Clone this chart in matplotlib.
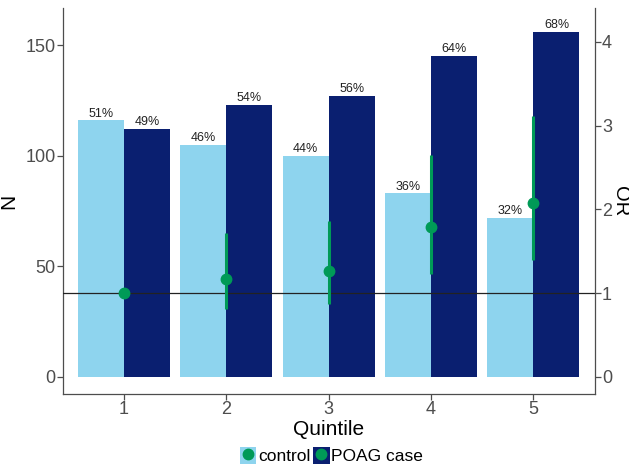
import numpy as np
import matplotlib.pyplot as plt
from matplotlib.patches import Patch
from matplotlib.lines import Line2D
from matplotlib.legend_handler import HandlerTuple

plt.rcParams['font.family'] = ['Liberation Sans', 'DejaVu Sans']

quintiles = [1, 2, 3, 4, 5]
control_n = [116, 105, 100, 83, 72]
case_n = [112, 123, 127, 145, 156]
control_pct = ['51%', '46%', '44%', '36%', '32%']
case_pct = ['49%', '54%', '56%', '64%', '68%']
odds_ratio = [1.0, 1.17, 1.27, 1.79, 2.08]
or_low = [1.0, 0.81, 0.87, 1.23, 1.40]
or_high = [1.0, 1.72, 1.86, 2.65, 3.11]

light_blue = '#8ED4EE'
navy = '#0A1F70'
green = '#009A57'
grey = '#4D4D4D'

fig = plt.figure(figsize=(6.29, 4.65), dpi=100)
ax = fig.add_axes([0.0997, 0.1527, 0.846, 0.830])
x = np.array(quintiles, dtype=float)
w = 0.45
ax.bar(x - w / 2, control_n, width=w, color=light_blue, edgecolor='none')
ax.bar(x + w / 2, case_n, width=w, color=navy, edgecolor='none')
for xi, n, p in zip(x, control_n, control_pct):
    ax.text(xi - w / 2, n + 0.3, p, ha='center', va='bottom', fontsize=9, color='#222222')
for xi, n, p in zip(x, case_n, case_pct):
    ax.text(xi + w / 2, n + 0.3, p, ha='center', va='bottom', fontsize=9, color='#222222')

ax.set_xlim(0.4, 5.6)
ymin, ymax = -7.7, 166.7
ax.set_ylim(ymin, ymax)
ax.set_yticks([0, 50, 100, 150])
ax.set_xticks(quintiles)
ax.set_xlabel('Quintile', fontsize=15)
ax.xaxis.set_label_coords(0.5, -0.068)
ax.set_ylabel('N', fontsize=15)
ax.yaxis.set_label_coords(-0.084, 0.5)

# secondary axis for OR, zero aligned with N = 0
scale = 37.85
ax2 = ax.twinx()
ax2.set_ylim(ymin / scale, ymax / scale)
ax2.set_yticks([0, 1, 2, 3, 4])
ax2.axhline(1, color='#222222', lw=0.9, zorder=2)
ax2.vlines(x, or_low, or_high, color=green, lw=2.2, zorder=3)
ax2.plot(x, odds_ratio, 'o', color=green, markersize=7.5, zorder=4)
# right axis title placed by hand so it sits clear of the tick labels
ax2.text(1.048, 0.5, 'OR', transform=ax2.transAxes, rotation=-90,
         ha='center', va='center', fontsize=14.5, color='black')

for a in (ax, ax2):
    a.spines['top'].set_visible(False)
    for s in ('left', 'right', 'bottom'):
        a.spines[s].set_color(grey)
        a.spines[s].set_linewidth(0.9)
    a.tick_params(colors=grey, labelsize=13, length=4, width=0.9, pad=1.2)
ax2.spines['left'].set_visible(False)
ax2.spines['bottom'].set_visible(False)
ax.spines['right'].set_visible(False)

handles = [
    (Patch(facecolor=light_blue, edgecolor='none'),
     Line2D([], [], marker='o', color=green, linestyle='none', markersize=7.5)),
    (Patch(facecolor=navy, edgecolor='none'),
     Line2D([], [], marker='o', color=green, linestyle='none', markersize=7.5)),
]
fig.legend(handles, ['control', 'POAG case'], loc='center', bbox_to_anchor=(0.527, 0.02),
           ncol=2, frameon=False, fontsize=12.5, handler_map={tuple: HandlerTuple(ndivide=1)},
           handlelength=0.95, handleheight=1.1, handletextpad=0.1, columnspacing=0.15)

fig.savefig('out.png', dpi=100)
